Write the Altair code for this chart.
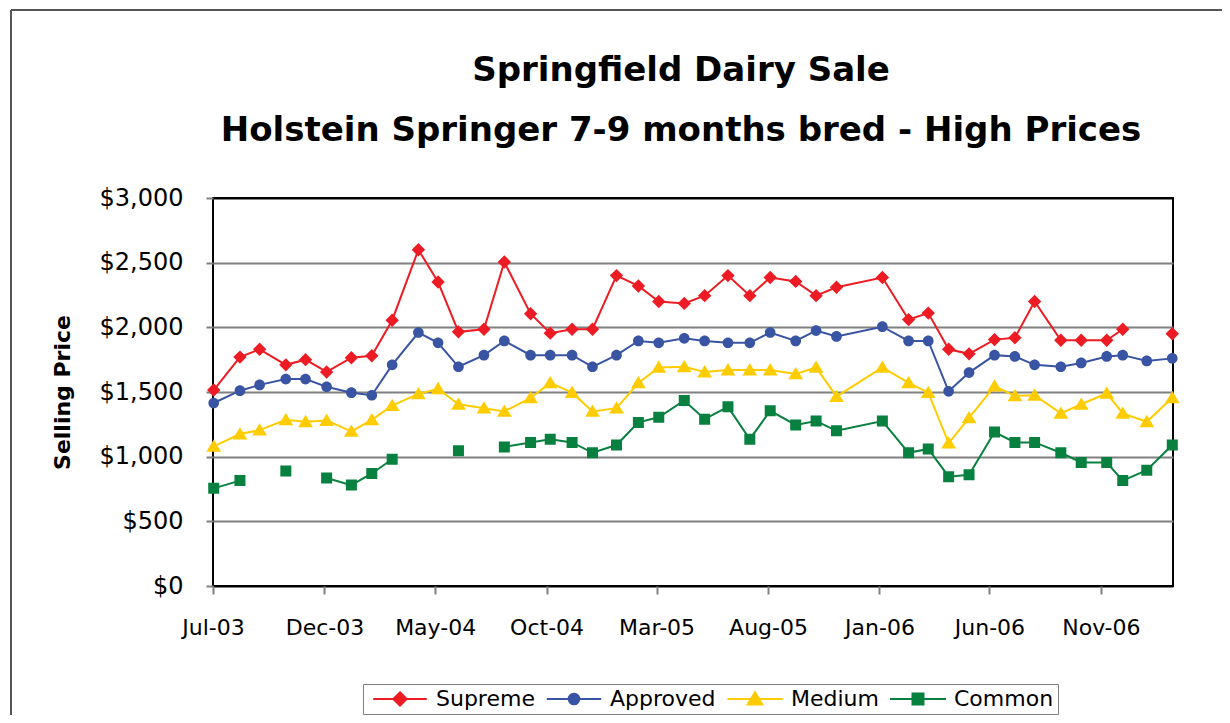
import altair as alt
import pandas as pd

dates = [
    "2003-07-02", "2003-08-07", "2003-09-03", "2003-10-09", "2003-11-05", "2003-12-04",
    "2004-01-07", "2004-02-04", "2004-03-03", "2004-04-08", "2004-05-05", "2004-06-02",
    "2004-07-07", "2004-08-04", "2004-09-09", "2004-10-06", "2004-11-05", "2004-12-03",
    "2005-01-05", "2005-02-04", "2005-03-04", "2005-04-08", "2005-05-06", "2005-06-07",
    "2005-07-07", "2005-08-04", "2005-09-08", "2005-10-06", "2005-11-03", "2006-01-05",
    "2006-02-10", "2006-03-09", "2006-04-06", "2006-05-04", "2006-06-08", "2006-07-06",
    "2006-08-02", "2006-09-07", "2006-10-05", "2006-11-09", "2006-12-01", "2007-01-03",
    "2007-02-07",
]

supreme = [1515, 1770, 1830, 1710, 1750, 1655, 1765, 1780, 2055, 2600, 2350, 1965, 1985,
           2505, 2105, 1955, 1985, 1985, 2400, 2320, 2200, 2185, 2245, 2400, 2245, 2385,
           2355, 2245, 2310, 2385, 2060, 2110, 1830, 1795, 1905, 1920, 2200, 1900, 1900,
           1900, 1985, None, 1950]
approved = [1415, 1510, 1555, 1600, 1600, 1540, 1495, 1475, 1710, 1960, 1880, 1695, 1785,
            1895, 1785, 1785, 1785, 1695, 1785, 1895, 1880, 1915, 1895, 1880, 1880, 1960,
            1895, 1975, 1930, 2005, 1895, 1895, 1505, 1650, 1785, 1775, 1710, 1695, 1725,
            1775, 1785, 1740, 1760]
medium = [1080, 1175, 1205, 1285, 1270, 1280, 1195, 1285, 1395, 1485, 1525, 1405, 1375,
          1350, 1455, 1570, 1495, 1350, 1375, 1570, 1690, 1695, 1655, 1670, 1670, 1670,
          1640, 1690, 1465, 1690, 1570, 1495, 1105, 1300, 1545, 1470, 1475, 1335, 1405,
          1490, 1335, 1270, 1455]
common = [755, 815, None, 890, None, 835, 780, 870, 980, None, None, 1045, None, 1075,
          1110, 1135, 1110, 1030, 1090, 1265, 1305, 1435, 1290, 1385, 1135, 1355, 1245,
          1275, 1200, 1275, 1030, 1060, 845, 860, 1190, 1110, 1110, 1030, 955, 955, 815,
          895, 1090]

grades = ["Supreme", "Approved", "Medium", "Common"]
colors = ["#ED1C24", "#3A54A4", "#FFCC00", "#08803F"]
# marker + a horizontal stroke (the stroke has no area, so it only shows when stroked,
# i.e. in the legend)
marker_paths = [
    "M-2.8,0H2.8M0,-0.7L0.7,0L0,0.7L-0.7,0Z",
    "M-2.8,0H2.8M0.55,0A0.55,0.55,0,1,1,-0.55,0A0.55,0.55,0,1,1,0.55,0Z",
    "M-2.8,0H2.8M0,-0.7L0.75,0.55L-0.75,0.55Z",
    "M-2.8,0H2.8M-0.55,-0.55H0.55V0.55H-0.55Z",
]
marker_sizes = [366, 400, 300, 400]

rows = []
for g, vals in zip(grades, [supreme, approved, medium, common]):
    for d, v in zip(dates, vals):
        rows.append({"date": d + "T00:00:00", "grade": g, "price": v})
df = pd.DataFrame(rows)

COMIC = "'Comic Sans MS', 'DejaVu Sans', sans-serif"

tick_dates = [
    alt.DateTime(year=2003, month=7, date=1), alt.DateTime(year=2003, month=12, date=1),
    alt.DateTime(year=2004, month=5, date=1), alt.DateTime(year=2004, month=10, date=1),
    alt.DateTime(year=2005, month=3, date=1), alt.DateTime(year=2005, month=8, date=1),
    alt.DateTime(year=2006, month=1, date=1), alt.DateTime(year=2006, month=6, date=1),
    alt.DateTime(year=2006, month=11, date=1),
]

x = alt.X(
    "date:T",
    scale=alt.Scale(domain=[alt.DateTime(year=2003, month=7, date=1),
                            alt.DateTime(year=2007, month=2, date=8)]),
    axis=alt.Axis(
        title=None, values=tick_dates, format="%b-%y", domain=False, grid=False,
        tickColor="#808080", tickWidth=2, tickSize=8, labelPadding=23, labelFlush=False,
        labelFont=COMIC, labelFontSize=22, labelColor="black",
    ),
)
y = alt.Y(
    "price:Q",
    scale=alt.Scale(domain=[0, 3000], nice=False),
    axis=alt.Axis(
        title="Selling Price", values=[0, 500, 1000, 1500, 2000, 2500, 3000],
        format="$,.0f", domain=False, tickColor="#808080", tickWidth=2, tickSize=7,
        labelPadding=23, labelFont="DejaVu Sans", labelFontSize=24, labelColor="black",
        gridColor={"condition": {"test": "datum.value == 0 || datum.value == 3000",
                                 "value": "black"}, "value": "#808080"},
        gridWidth=2,
        titleFont=COMIC, titleFontSize=22, titleFontWeight="bold", titleColor="black",
        titleX=-151, titleY=194, titleAngle=-90, titleAlign="center", titleBaseline="middle",
    ),
)

leg = alt.Legend(
    title=None, orient="none", legendX=150, legendY=486, direction="horizontal",
    strokeColor="#808080", fillColor="white", padding=4,
    symbolSize=400, symbolOffset=22, labelOffset=25, columnPadding=6,
    symbolStrokeWidth=2,
    labelFont=COMIC, labelFontSize=22, labelColor="black", labelLimit=400,
)

color = alt.Color("grade:N", scale=alt.Scale(domain=grades, range=colors), legend=leg)

base = alt.Chart(df).encode(x=x, y=y, color=color)
lines = base.mark_line(strokeWidth=2, invalid="break-paths-show-domains")

points = base.transform_filter("isValid(datum.price)").mark_point(
    filled=True, opacity=1, strokeWidth=0
).encode(
    shape=alt.Shape("grade:N", scale=alt.Scale(domain=grades, range=marker_paths), legend=leg),
    size=alt.Size("grade:N", scale=alt.Scale(domain=grades, range=marker_sizes), legend=None),
)

frame_df = pd.DataFrame({"k": [0]})
top_border = alt.Chart(frame_df).mark_rule(color="#555555", strokeWidth=2).encode(
    x=alt.value(-202), x2=alt.value(1300), y=alt.value(-188)
)
left_border = alt.Chart(frame_df).mark_rule(color="#555555", strokeWidth=2).encode(
    x=alt.value(-202), y=alt.value(-188), y2=alt.value(700)
)

chart = alt.layer(lines, points, top_border, left_border).properties(
    width=960, height=388,
    autosize=alt.AutoSizeParams(type="none"),
    padding={"left": 205, "top": 190, "right": 49, "bottom": 129},
    title=alt.TitleParams(
        text=["Springfield Dairy Sale",
              "Holstein Springer 7-9 months bred - High Prices"],
        font=COMIC, fontSize=34, fontWeight="bold", color="black",
        lineHeight=60, anchor="middle", dx=-12, offset=-166, baseline="alphabetic",
    ),
).configure(
    background="white",
    view=alt.ViewConfig(stroke="black", strokeWidth=2),
)

chart.save("out.html", embed_options={"renderer": "svg", "actions": False})
